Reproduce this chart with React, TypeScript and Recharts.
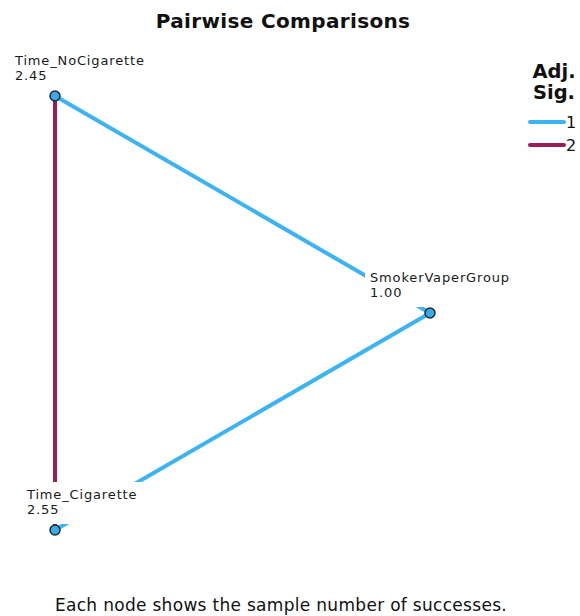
import React from 'react';
import { ScatterChart, Scatter, XAxis, YAxis } from 'recharts';

// ---- data ----
const nodeNames = ['Time_NoCigarette', 'Time_Cigarette', 'SmokerVaperGroup'];
const nodeValues = [2.45, 2.55, 1.0];
// edges: [from, to]
const edgeFrom = [0, 2, 0];
const edgeTo = [2, 1, 1];
const edgeSig = [1, 1, 2];
const legendLevels = [1, 2];
const title = 'Pairwise Comparisons';
const footnote = 'Each node shows the sample number of successes.';
const legendTitle = ['Adj.', 'Sig.'];

// ---- layout (network graph node placement, unit space) ----
const nodeLayoutX = [0, 0, 1];
const nodeLayoutY = [1, 0, 0.5];
const labelDx = [-40, -28, -60];

// ---- styles ----
const FONT = '"DejaVu Sans", sans-serif';
const sigColors: Record<number, string> = { 1: '#3cb3f3', 2: '#9b1d55' };

const nodes = nodeNames.map((name, i) => ({
  name,
  value: nodeValues[i],
  x: nodeLayoutX[i],
  y: nodeLayoutY[i],
  dx: labelDx[i],
}));

const edges = edgeFrom.map((f, i) => ({
  sig: edgeSig[i],
  data: [nodes[f], nodes[edgeTo[i]]],
}));

const NoPoint = () => <g />;

const LabelShape = (props: any) => {
  const { cx, cy, payload } = props;
  const left = cx + payload.dx;
  return (
    <g>
      <rect x={left - 5} y={cy - 48} width={150} height={42} fill="#ffffff" />
      <text x={left} y={cy - 31} fontFamily={FONT} fontSize={13} letterSpacing={0.85} fill="#1a1a1a">
        {payload.name}
      </text>
      <text x={left} y={cy - 16} fontFamily={FONT} fontSize={13} letterSpacing={0.85} fill="#1a1a1a">
        {payload.value.toFixed(2)}
      </text>
    </g>
  );
};

const NodeShape = (props: any) => {
  const { cx, cy } = props;
  return <circle cx={cx} cy={cy} r={5} fill="#3aa9ea" stroke="#1b2a38" strokeWidth={1.5} />;
};

export default function App() {
  return (
    <div style={{ position: 'absolute', left: 0, top: 0, width: 580, height: 616, background: '#fff' }}>
      <ScatterChart width={580} height={616} margin={{ top: 96, right: 150, bottom: 86, left: 55 }}>
        <XAxis type="number" dataKey="x" domain={[0, 1]} hide />
        <YAxis type="number" dataKey="y" domain={[0, 1]} hide />
        {edges.map((e, i) => (
          <Scatter
            key={'edge' + i}
            data={e.data}
            line={{ stroke: sigColors[e.sig], strokeWidth: 4 }}
            shape={NoPoint}
            isAnimationActive={false}
          />
        ))}
        <Scatter data={nodes} shape={LabelShape} isAnimationActive={false} />
        <Scatter data={nodes} shape={NodeShape} isAnimationActive={false} />
        <text x={283} y={28} textAnchor="middle" fontFamily={FONT} fontWeight="bold" fontSize={20} letterSpacing={0.35} fill="#111">
          {title}
        </text>
        <text x={281} y={611} textAnchor="middle" fontFamily={FONT} fontSize={17} letterSpacing={0.3} fill="#111">
          {footnote}
        </text>
        {legendTitle.map((t, i) => (
          <text key={t} x={554} y={78 + i * 21} textAnchor="middle" fontFamily={FONT} fontWeight="bold" fontSize={19.5} fill="#111">
            {t}
          </text>
        ))}
        {legendLevels.map((lv, i) => (
          <g key={'lg' + lv}>
            <line x1={530} x2={564} y1={122 + i * 23} y2={122 + i * 23} stroke={sigColors[lv]} strokeWidth={4} strokeLinecap="round" />
            <text x={566} y={128 + i * 23} fontFamily={FONT} fontSize={16} fill="#111">
              {lv}
            </text>
          </g>
        ))}
      </ScatterChart>
    </div>
  );
}
